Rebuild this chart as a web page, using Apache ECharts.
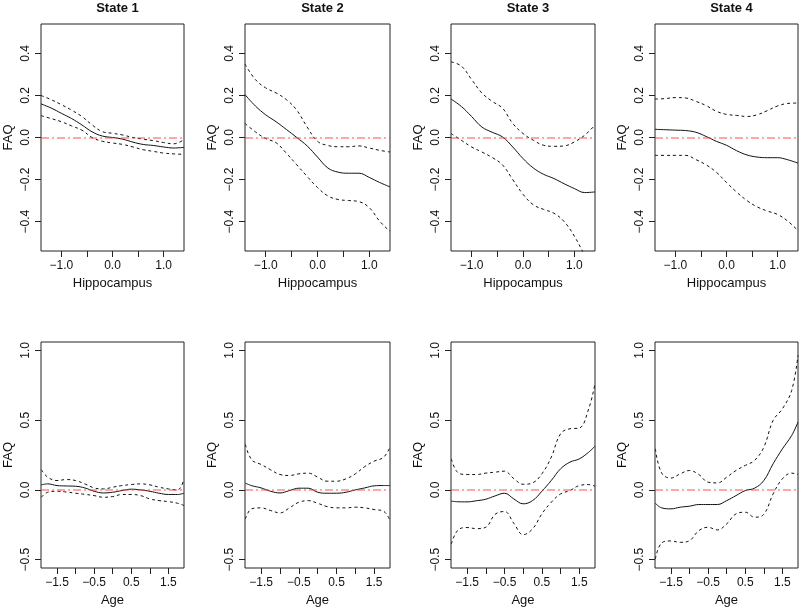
<!DOCTYPE html>
<html>
<head>
<meta charset="utf-8">
<script src="https://cdn.jsdelivr.net/npm/echarts@6/dist/echarts.min.js"></script>
<style>
  html, body { margin: 0; padding: 0; background: #fff; }
  #main { width: 800px; height: 608px; }
</style>
</head>
<body>
<div id="main"></div>
<script>
// x grids
var hippoX = [-1.4, -1.2, -1.0, -0.8, -0.6, -0.4, -0.2, 0, 0.2, 0.4, 0.6, 0.8, 1.0, 1.2, 1.4];
var ageX = [-1.92, -1.75, -1.5, -1.25, -1.0, -0.75, -0.5, -0.25, 0, 0.25, 0.5, 0.75, 1.0, 1.25, 1.5, 1.75, 1.92];

var stateTitles = ['State 1', 'State 2', 'State 3', 'State 4'];

// top row: hippocampus effect
var hipFit1 = [0.16, 0.14, 0.115, 0.09, 0.06, 0.027, 0.007, 0.0, -0.008, -0.022, -0.033, -0.038, -0.045, -0.05, -0.047];
var hipUp1 = [0.20, 0.18, 0.156, 0.13, 0.10, 0.06, 0.028, 0.02, 0.012, 0.0, -0.008, -0.015, -0.024, -0.03, -0.01];
var hipLo1 = [0.104, 0.09, 0.075, 0.055, 0.035, 0.0, -0.018, -0.026, -0.033, -0.045, -0.058, -0.066, -0.074, -0.078, -0.08];

var hipFit2 = [0.204, 0.15, 0.108, 0.075, 0.038, 0.0, -0.04, -0.093, -0.145, -0.165, -0.17, -0.17, -0.19, -0.214, -0.235];
var hipUp2 = [0.349, 0.276, 0.236, 0.212, 0.18, 0.13, 0.05, -0.018, -0.038, -0.044, -0.044, -0.04, -0.05, -0.061, -0.069];
var hipLo2 = [0.067, 0.027, -0.005, -0.025, -0.075, -0.13, -0.185, -0.238, -0.278, -0.295, -0.3, -0.305, -0.334, -0.398, -0.447];

var hipFit3 = [0.183, 0.148, 0.10, 0.05, 0.025, 0.003, -0.045, -0.1, -0.145, -0.175, -0.195, -0.22, -0.243, -0.262, -0.259];
var hipUp3 = [0.36, 0.34, 0.276, 0.212, 0.172, 0.14, 0.067, 0.019, -0.013, -0.037, -0.042, -0.04, -0.021, 0.011, 0.059];
var hipLo3 = [0.019, -0.013, -0.045, -0.069, -0.095, -0.13, -0.2, -0.27, -0.32, -0.342, -0.36, -0.4, -0.47, -0.56, -0.64];

var hipFit4 = [0.039, 0.037, 0.035, 0.033, 0.025, 0.005, -0.018, -0.037, -0.063, -0.083, -0.093, -0.096, -0.096, -0.106, -0.122];
var hipUp4 = [0.183, 0.185, 0.19, 0.188, 0.172, 0.152, 0.125, 0.11, 0.105, 0.10, 0.108, 0.128, 0.15, 0.162, 0.164];
var hipLo4 = [-0.085, -0.085, -0.085, -0.085, -0.105, -0.13, -0.165, -0.214, -0.26, -0.3, -0.33, -0.35, -0.366, -0.398, -0.443];

// bottom row: age effect
var ageFit1 = [0.036, 0.043, 0.031, 0.028, 0.026, 0.014, -0.01, -0.022, -0.017, -0.005, 0.005, 0.0, -0.01, -0.024, -0.033, -0.033, -0.024];
var ageUp1 = [0.144, 0.091, 0.067, 0.074, 0.067, 0.043, 0.014, 0.007, 0.019, 0.031, 0.038, 0.043, 0.036, 0.019, 0.007, 0.0, 0.079];
var ageLo1 = [-0.053, -0.017, -0.01, -0.015, -0.024, -0.032, -0.041, -0.053, -0.048, -0.033, -0.033, -0.041, -0.065, -0.077, -0.084, -0.096, -0.112];

var ageFit2 = [0.048, 0.03, 0.014, -0.01, -0.022, -0.005, 0.012, 0.012, -0.017, -0.024, -0.024, -0.017, 0.0, 0.014, 0.029, 0.031, 0.031];
var ageUp2 = [0.325, 0.215, 0.182, 0.144, 0.11, 0.103, 0.115, 0.12, 0.091, 0.062, 0.062, 0.079, 0.115, 0.167, 0.206, 0.234, 0.306];
var ageLo2 = [-0.208, -0.135, -0.129, -0.148, -0.165, -0.129, -0.089, -0.077, -0.096, -0.12, -0.129, -0.129, -0.124, -0.129, -0.141, -0.153, -0.22];

var ageFit3 = [-0.081, -0.085, -0.086, -0.078, -0.067, -0.043, -0.024, -0.065, -0.1, -0.077, -0.01, 0.067, 0.151, 0.199, 0.222, 0.27, 0.313];
var ageUp3 = [0.222, 0.125, 0.11, 0.11, 0.12, 0.127, 0.134, 0.08, 0.04, 0.05, 0.115, 0.234, 0.402, 0.438, 0.443, 0.58, 0.761];
var ageLo3 = [-0.388, -0.29, -0.27, -0.278, -0.268, -0.175, -0.155, -0.24, -0.321, -0.28, -0.172, -0.089, -0.029, -0.005, 0.031, 0.038, 0.026];

var ageFit4 = [-0.096, -0.129, -0.136, -0.124, -0.117, -0.105, -0.105, -0.105, -0.077, -0.041, -0.005, 0.012, 0.067, 0.187, 0.294, 0.39, 0.486];
var ageUp4 = [0.294, 0.12, 0.085, 0.115, 0.139, 0.11, 0.055, 0.05, 0.091, 0.139, 0.175, 0.211, 0.306, 0.498, 0.581, 0.713, 0.964];
var ageLo4 = [-0.495, -0.38, -0.366, -0.376, -0.364, -0.292, -0.268, -0.287, -0.244, -0.172, -0.16, -0.196, -0.175, -0.029, 0.079, 0.12, 0.11];

// ticks
var hipTicks = [-1.0, -0.5, 0, 0.5, 1.0];
var hipLabels = [-1.0, 0, 1.0];
var ageTicks = [-1.5, -1.0, -0.5, 0, 0.5, 1.0, 1.5];
var ageLabels = [-1.5, -0.5, 0.5, 1.5];
var hipYTicks = [-0.4, -0.2, 0, 0.2, 0.4];
var ageYTicks = [-0.5, 0, 0.5, 1.0];

var panelLefts = [41, 245, 451, 655];
var panelWidths = [143, 145, 144, 143];
var font = 'Liberation Sans, Arial, sans-serif';

function fmt(v) {
    var s = Math.abs(v).toFixed(1);
    return v < -1e-9 ? '\u2212' + s : s;
}

function pairs(xs, ys) {
    return xs.map(function (x, i) { return [x, ys[i]]; });
}

var rows = [
    { top: 24, height: 227, xs: hippoX, xmin: -1.4, xmax: 1.4, ymin: -0.54, ymax: 0.54,
      xTicks: hipTicks, xLabels: hipLabels, yTicks: hipYTicks, xName: 'Hippocampus',
      fits: [hipFit1, hipFit2, hipFit3, hipFit4], ups: [hipUp1, hipUp2, hipUp3, hipUp4], los: [hipLo1, hipLo2, hipLo3, hipLo4] },
    { top: 342, height: 226, xs: ageX, xmin: -1.93, xmax: 1.92, ymin: -0.56, ymax: 1.06,
      xTicks: ageTicks, xLabels: ageLabels, yTicks: ageYTicks, xName: 'Age',
      fits: [ageFit1, ageFit2, ageFit3, ageFit4], ups: [ageUp1, ageUp2, ageUp3, ageUp4], los: [ageLo1, ageLo2, ageLo3, ageLo4] }
];

var grids = [], xAxes = [], yAxes = [], series = [], titles = [];

rows.forEach(function (row, r) {
    for (var c = 0; c < 4; c++) {
        var idx = grids.length;
        grids.push({
            left: panelLefts[c], width: panelWidths[c], top: row.top, height: row.height,
            show: true, borderColor: '#222', borderWidth: 1
        });
        xAxes.push({
            type: 'value', gridIndex: idx, min: row.xmin, max: row.xmax, position: 'bottom',
            name: row.xName, nameLocation: 'middle', nameGap: 26,
            nameTextStyle: { fontFamily: font, fontSize: 13, color: '#111' },
            axisLine: { show: false, onZero: false },
            axisTick: { show: true, inside: false, length: 6, customValues: row.xTicks, lineStyle: { color: '#222' } },
            axisLabel: { customValues: row.xLabels, formatter: fmt, margin: 9, fontFamily: font, fontSize: 12, color: '#111' },
            splitLine: { show: false }
        });
        yAxes.push({
            type: 'value', gridIndex: idx, min: row.ymin, max: row.ymax, position: 'left',
            name: 'FAQ', nameLocation: 'middle', nameGap: 26,
            nameTextStyle: { fontFamily: font, fontSize: 13, color: '#111' },
            axisLine: { show: false, onZero: false },
            axisTick: { show: true, inside: false, length: 6, customValues: row.yTicks, lineStyle: { color: '#222' } },
            axisLabel: { customValues: row.yTicks, formatter: fmt, rotate: 90, margin: 9, fontFamily: font, fontSize: 12, color: '#111' },
            splitLine: { show: false }
        });
        series.push({
            type: 'line', xAxisIndex: idx, yAxisIndex: idx, data: pairs(row.xs, row.fits[c]),
            smooth: 0.4, symbol: 'none', clip: true,
            lineStyle: { color: '#111', width: 1 },
            markLine: {
                silent: true, symbol: 'none', label: { show: false },
                lineStyle: { color: 'rgba(255,60,60,0.6)', width: 1.6, type: [8, 3, 2, 3] },
                data: [{ yAxis: 0 }]
            },
            z: 3
        });
        series.push({
            type: 'line', xAxisIndex: idx, yAxisIndex: idx, data: pairs(row.xs, row.ups[c]),
            smooth: 0.4, symbol: 'none', clip: true,
            lineStyle: { color: '#111', width: 1, type: [3, 3] }
        });
        series.push({
            type: 'line', xAxisIndex: idx, yAxisIndex: idx, data: pairs(row.xs, row.los[c]),
            smooth: 0.4, symbol: 'none', clip: true,
            lineStyle: { color: '#111', width: 1, type: [3, 3] }
        });
        if (r === 0) {
            titles.push({
                text: stateTitles[c], left: panelLefts[c] + panelWidths[c] / 2, top: -3, textAlign: 'center',
                textStyle: { fontFamily: font, fontSize: 13, fontWeight: 'bold', color: '#111' }
            });
        }
    }
});

var chart = echarts.init(document.getElementById('main'));
chart.setOption({
    backgroundColor: '#fff',
    animation: false,
    title: titles,
    grid: grids,
    xAxis: xAxes,
    yAxis: yAxes,
    series: series
});
</script>
</body>
</html>
